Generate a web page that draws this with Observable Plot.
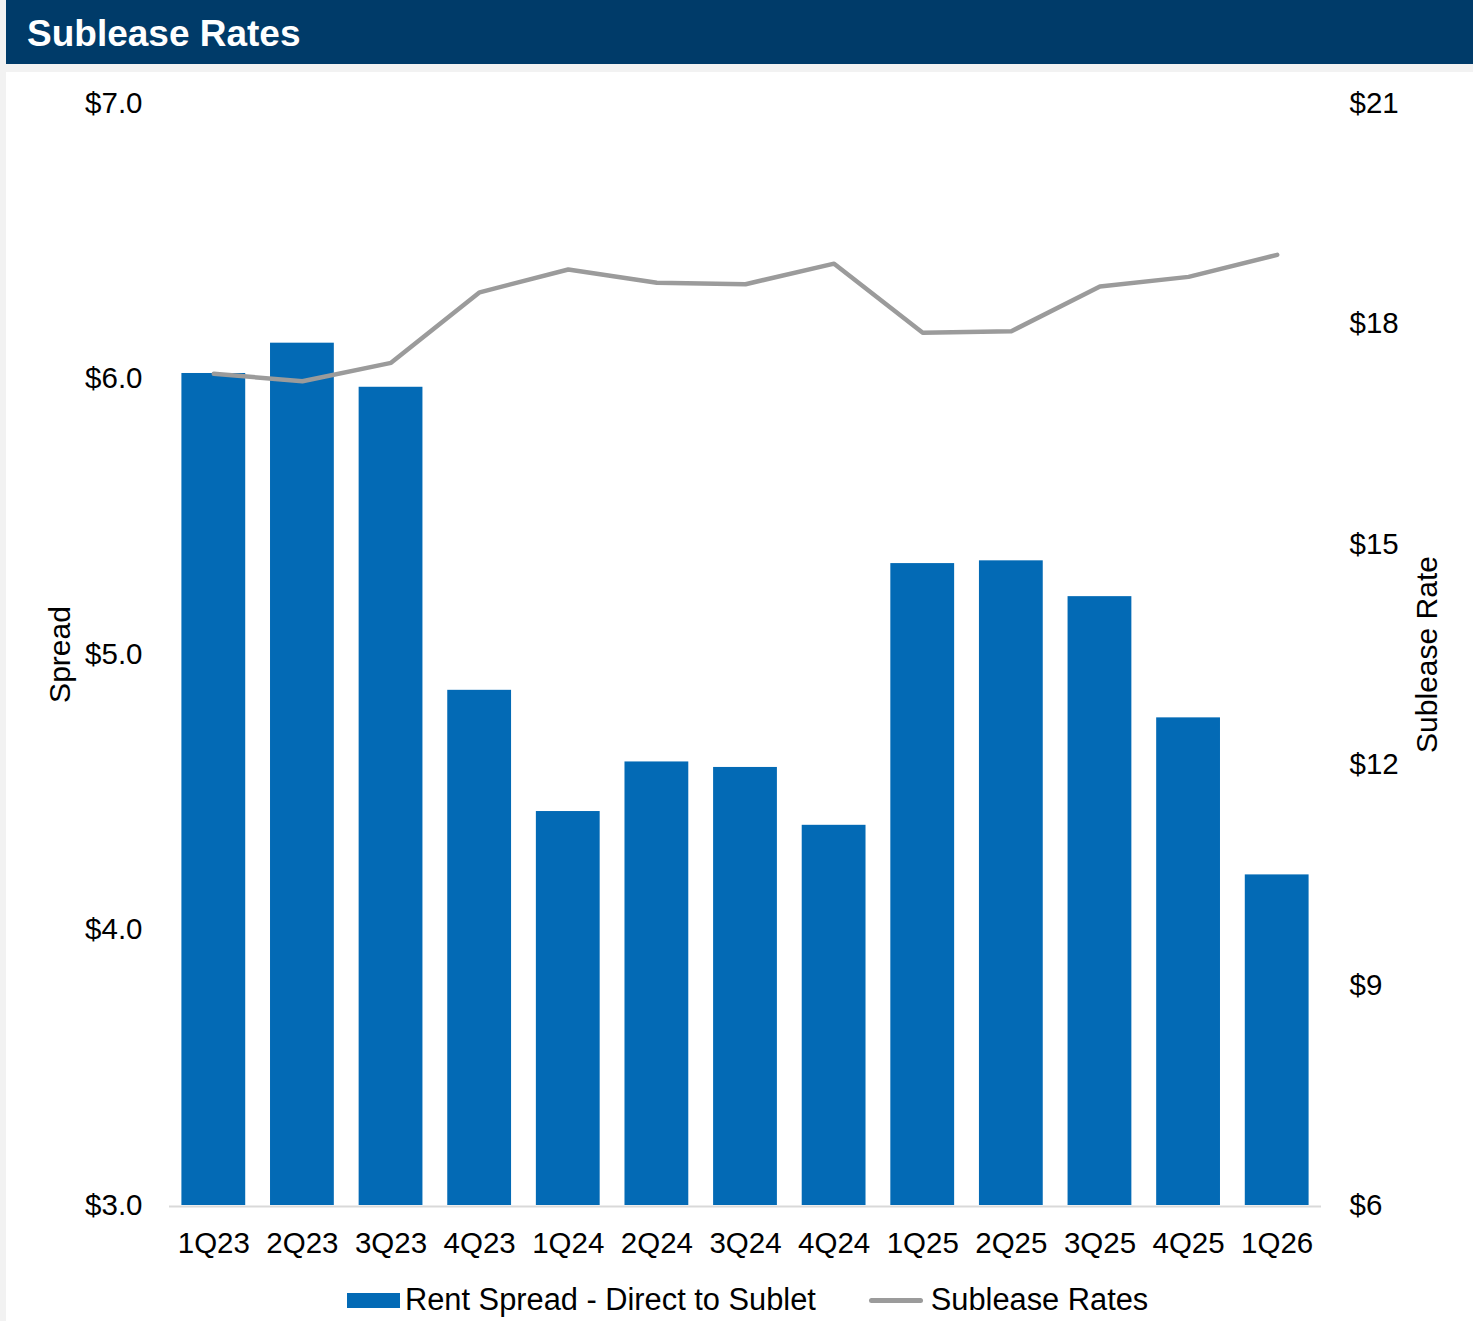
<!DOCTYPE html>
<html>
<head>
<meta charset="utf-8">
<script src="https://cdn.jsdelivr.net/npm/d3@7"></script>
<script src="https://cdn.jsdelivr.net/npm/@observablehq/plot@0.6"></script>
<style>
  html, body { margin: 0; padding: 0; background: #f2f2f2; width: 1473px; height: 1321px; overflow: hidden; }
  body { font-family: "Liberation Sans", Arial, sans-serif; position: relative; }
  #header { position: absolute; left: 6px; top: 0; width: 1467px; height: 64px; background: #003b69; color: #fff;
            font-weight: bold; font-size: 37px; line-height: 68px; box-sizing: border-box; padding-left: 21px; }
  #panel { position: absolute; left: 6px; top: 72px; width: 1467px; height: 1249px; background: #fff; }
  #chart svg { display: block; }
  #legend { position: absolute; left: 341px; top: 1208px; height: 40px; display: flex; align-items: center; font-size: 30.8px; color: #000; }
  .sw-bar { width: 53px; height: 15px; background: #036ab5; margin-right: 5px; }
  .sw-line { width: 54px; height: 5px; background: #9b9b9b; border-radius: 3px; margin-right: 8px; }
  .item { display: flex; align-items: center; }
</style>
</head>
<body>
<div id="header">Sublease Rates</div>
<div id="panel">
  <div id="chart"></div>
  <div id="legend">
    <div class="item"><div class="sw-bar"></div><span>Rent Spread - Direct to Sublet</span></div>
    <div class="item" style="margin-left:53px"><div class="sw-line"></div><span>Sublease Rates</span></div>
  </div>
</div>
<script>
const quarters = ["1Q23","2Q23","3Q23","4Q23","1Q24","2Q24","3Q24","4Q24","1Q25","2Q25","3Q25","4Q25","1Q26"];
const spread = [6.02, 6.13, 5.97, 4.87, 4.43, 4.61, 4.59, 4.38, 5.33, 5.34, 5.21, 4.77, 4.20];
const subleaseRate = [17.32, 17.22, 17.47, 18.43, 18.74, 18.56, 18.54, 18.82, 17.88, 17.90, 18.51, 18.64, 18.94];
const leftTicks = [3, 4, 5, 6, 7];
const rightTicks = [6, 9, 12, 15, 18, 21];

// secondary axis mapping: rate [6,21] -> spread [3,7]
const toLeft = r => 3 + (r - 6) * 4 / 15;
const toRight = s => 6 + (s - 3) * 15 / 4;

const data = quarters.map((q, i) => ({q, spread: spread[i], rate: subleaseRate[i]}));

const chart = Plot.plot({
  width: 1467,
  height: 1200,
  marginTop: 31,
  marginBottom: 67,
  marginLeft: 163,
  marginRight: 152,
  style: {fontFamily: "'Liberation Sans', Arial, sans-serif", fontSize: "29.5px", color: "#000", background: "#fff", overflow: "visible"},
  x: {domain: quarters, paddingInner: 0.28, paddingOuter: 0.14, round: false, label: null},
  y: {domain: [3, 7], label: null},
  marks: [
    Plot.ruleY([3], {stroke: "#d9d9d9", strokeWidth: 2, dy: 1}),
    Plot.barY(data, {x: "q", y: "spread", y1: 3, fill: "#036ab5"}),
    Plot.line(data, {x: "q", y: d => toLeft(d.rate), stroke: "#9b9b9b", strokeWidth: 4.5, strokeLinecap: "round", strokeLinejoin: "round"}),
    Plot.axisX({anchor: "bottom", tickSize: 0, tickPadding: 27, label: null, fontSize: 29.5}),
    Plot.axisY(leftTicks, {anchor: "left", tickSize: 0, tickPadding: 27, label: null, tickFormat: d => "$" + d.toFixed(1), fontSize: 29.5}),
    Plot.axisY(rightTicks.map(toLeft), {anchor: "right", tickSize: 0, tickPadding: 28, label: null, tickFormat: d => "$" + Math.round(toRight(d)), fontSize: 29.5}),
    Plot.text(["Spread"], {frameAnchor: "left", dx: -109, rotate: -90, textAnchor: "middle", lineAnchor: "middle", fontSize: 30, fill: "#000"}),
    Plot.text(["Sublease Rate"], {frameAnchor: "right", dx: 106, rotate: -90, textAnchor: "middle", lineAnchor: "middle", fontSize: 30, fill: "#000"})
  ]
});
document.getElementById("chart").appendChild(chart);
</script>
</body>
</html>
